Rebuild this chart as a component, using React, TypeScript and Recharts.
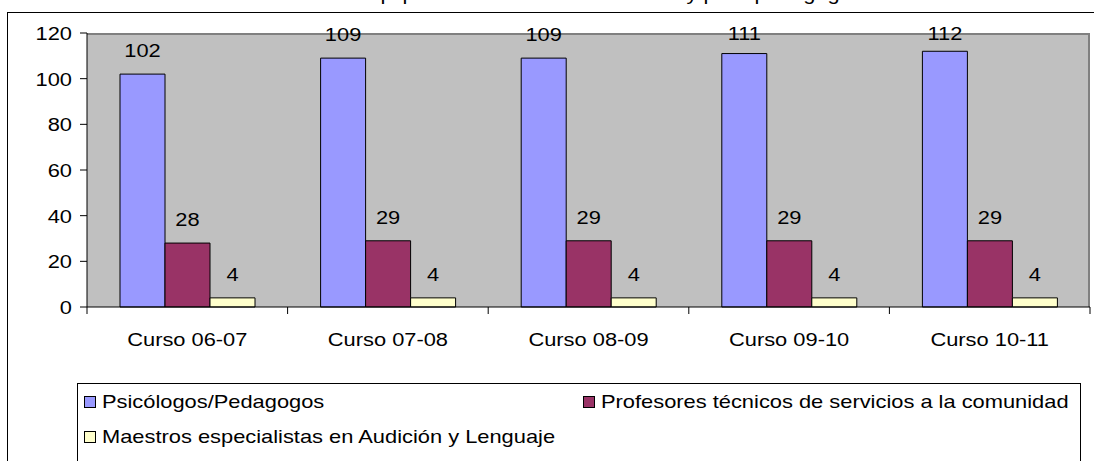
import React from "react";
import { BarChart, Bar, XAxis, YAxis, CartesianGrid, Legend, LabelList } from "recharts";

const cursos = ["Curso 06-07", "Curso 07-08", "Curso 08-09", "Curso 09-10", "Curso 10-11"];
const psicologos = [102, 109, 109, 111, 112];
const profesoresTecnicos = [28, 29, 29, 29, 29];
const maestrosAL = [4, 4, 4, 4, 4];
const yTicks = [0, 20, 40, 60, 80, 100, 120];

const series = [
  { key: "psic", name: "Psicólogos/Pedagogos", color: "#9999FF" },
  { key: "ptsc", name: "Profesores técnicos de servicios a la comunidad", color: "#993366" },
  { key: "al", name: "Maestros especialistas en Audición y Lenguaje", color: "#FFFFCC" },
];

// title is cut off at the top of the picture, only descenders show
const title = "Evolución de los equipos de orientación educativa y psicopedagógica";

const data = cursos.map((curso, i) => ({
  curso,
  psic: psicologos[i],
  ptsc: profesoresTecnicos[i],
  al: maestrosAL[i],
}));

const W = 1094;
const H = 461;
const PLOT_LEFT = 87;
const PLOT_RIGHT = 1090;
const PLOT_TOP = 33;
const PLOT_BOTTOM = 307;
const FONT = "'Liberation Sans', Arial, sans-serif";
const FS = 19;
const SX = 1.15; // the source image is stretched horizontally

const Stretch = ({ x, y, anchor, children }: any) => (
  <text
    transform={`translate(${x},${y}) scale(${SX},1)`}
    textAnchor={anchor}
    fontFamily={FONT}
    fontSize={FS}
    fill="#000"
  >
    {children}
  </text>
);

const XTick = (props: any) => {
  const { x, payload, index } = props;
  const band = (PLOT_RIGHT - PLOT_LEFT) / cursos.length;
  const left = x - band / 2;
  const right = x + band / 2;
  return (
    <g>
      <line x1={left} y1={PLOT_BOTTOM} x2={left} y2={PLOT_BOTTOM + 7} stroke="#000" />
      {index === cursos.length - 1 && (
        <line x1={right} y1={PLOT_BOTTOM} x2={right} y2={PLOT_BOTTOM + 7} stroke="#000" />
      )}
      <Stretch x={x} y={PLOT_BOTTOM + 39} anchor="middle">
        {payload.value}
      </Stretch>
    </g>
  );
};

const YTick = (props: any) => {
  const { y, payload } = props;
  return (
    <Stretch x={PLOT_LEFT - 15} y={y + 7} anchor="end">
      {payload.value}
    </Stretch>
  );
};

const BarLabel = (props: any) => {
  const vb = props.viewBox ?? props;
  const x = vb.x ?? props.x;
  const y = vb.y ?? props.y;
  const width = vb.width ?? props.width;
  const center = Math.max(y - 24, PLOT_TOP);
  return (
    <Stretch x={x + width / 2} y={center + 7} anchor="middle">
      {props.value}
    </Stretch>
  );
};

const LegendBox = () => (
  <div
    style={{
      boxSizing: "border-box",
      width: "100%",
      height: "100%",
      border: "1px solid #000",
      background: "#fff",
      paddingTop: 0,
      paddingLeft: 6,
      display: "grid",
      gridTemplateColumns: "499px auto",
      gridAutoRows: "35px",
      fontFamily: FONT,
      fontSize: FS,
      color: "#000",
    }}
  >
    {series.map((s) => (
      <div key={s.key} style={{ display: "flex", alignItems: "center", whiteSpace: "nowrap" }}>
        <span
          style={{
            display: "inline-block",
            boxSizing: "border-box",
            width: 12,
            height: 12,
            border: "1px solid #000",
            background: s.color,
            marginRight: 6,
          }}
        />
        <span
          style={{
            display: "inline-block",
            transform: `scaleX(${SX})`,
            transformOrigin: "left center",
            lineHeight: "35px",
          }}
        >
          {s.name}
        </span>
      </div>
    ))}
  </div>
);

export default function App() {
  return (
    <div
      style={{
        position: "fixed",
        left: 0,
        top: 0,
        width: W,
        height: H,
        overflow: "hidden",
        background: "#fff",
      }}
    >
      <div
        style={{
          position: "absolute",
          left: 7,
          top: 12,
          width: 1200,
          height: 600,
          border: "1px solid #000",
        }}
      />
      <svg width={W} height={20} style={{ position: "absolute", left: 0, top: 0 }}>
        <Stretch x={196} y={0} anchor="start">
          {title}
        </Stretch>
      </svg>
      <div style={{ position: "absolute", left: 0, top: 0 }}>
        <BarChart
          width={W}
          height={H}
          data={data}
          margin={{ top: PLOT_TOP, right: W - PLOT_RIGHT, bottom: 124, left: 0 }}
          barGap={0}
        >
          <CartesianGrid
            fill="#C0C0C0"
            stroke="#808080"
            strokeWidth={2}
            horizontalPoints={[PLOT_TOP + 1]}
            verticalPoints={[PLOT_RIGHT - 1]}
          />
          <XAxis
            dataKey="curso"
            height={30}
            interval={0}
            tickLine={false}
            axisLine={{ stroke: "#000" }}
            tick={<XTick />}
          />
          <YAxis
            width={PLOT_LEFT}
            domain={[0, 120]}
            ticks={yTicks}
            tickSize={7}
            tickLine={{ stroke: "#000" }}
            axisLine={{ stroke: "#000" }}
            tick={<YTick />}
          />
          <Legend
            verticalAlign="middle"
            align="center"
            layout="horizontal"
            wrapperStyle={{ left: 77, top: 383, width: 1004, height: 100 }}
            content={<LegendBox />}
          />
          {series.map((s) => (
            <Bar
              key={s.key}
              dataKey={s.key}
              name={s.name}
              fill={s.color}
              stroke="#000"
              strokeWidth={1}
              barSize={45}
              isAnimationActive={false}
            >
              <LabelList dataKey={s.key} content={<BarLabel />} />
            </Bar>
          ))}
        </BarChart>
      </div>
    </div>
  );
}
